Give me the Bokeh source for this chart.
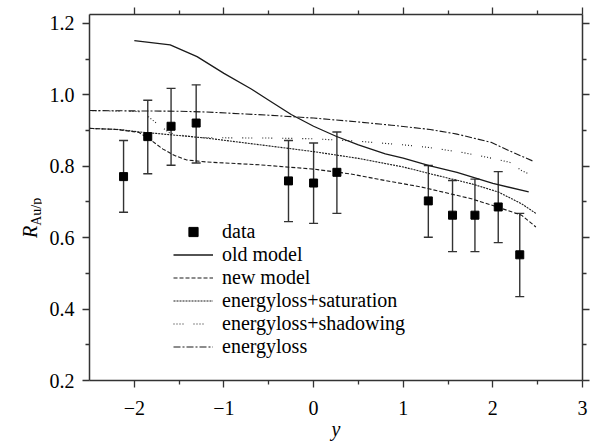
from bokeh.plotting import figure
from bokeh.models import (ColumnDataSource, Whisker, TeeHead, LinearAxis, FixedTicker,
                          Legend, LegendItem, CustomJSTickFormatter, Range1d, Div)
from bokeh.layouts import row
from bokeh.embed import file_html
from bokeh.resources import INLINE

# ---------------- data ----------------
data_x = [-2.12, -1.85, -1.59, -1.31, -0.28, 0.0, 0.26, 1.28, 1.55, 1.80, 2.06, 2.30]
data_y = [0.771, 0.883, 0.912, 0.921, 0.759, 0.753, 0.783, 0.703, 0.663, 0.663, 0.686, 0.552]
data_hi = [0.872, 0.985, 1.018, 1.028, 0.872, 0.865, 0.896, 0.802, 0.760, 0.764, 0.785, 0.668]
data_lo = [0.671, 0.779, 0.803, 0.809, 0.645, 0.640, 0.668, 0.601, 0.561, 0.561, 0.586, 0.435]

old_x = [-2.0, -1.6, -1.3, -1.0, -0.7, -0.5, -0.25, 0.0, 0.25, 0.5, 0.8, 1.0, 1.3, 1.6, 2.0, 2.4]
old_y = [1.152, 1.140, 1.107, 1.060, 1.017, 0.985, 0.945, 0.912, 0.884, 0.860, 0.835, 0.823, 0.801, 0.783, 0.752, 0.728]

new_x = [-2.5, -2.2, -1.95, -1.83, -1.68, -1.55, -1.42, -1.2, -0.6, 0.0, 0.4, 0.8, 1.2, 1.76, 2.0, 2.32, 2.48]
new_y = [0.906, 0.903, 0.895, 0.876, 0.848, 0.830, 0.818, 0.812, 0.804, 0.792, 0.779, 0.760, 0.742, 0.709, 0.690, 0.663, 0.630]

sat_x = [-2.5, -2.17, -1.94, -1.76, -1.5, -1.2, -0.5, 0.0, 0.5, 1.0, 1.3, 1.76, 2.06, 2.32, 2.48]
sat_y = [0.906, 0.903, 0.896, 0.892, 0.886, 0.879, 0.857, 0.841, 0.822, 0.798, 0.779, 0.751, 0.728, 0.695, 0.668]

shad_x = [-2.5, -1.94, -1.85, -1.74, -1.61, -1.5, -1.27, -0.5, 0.0, 0.5, 1.0, 1.275, 1.65, 1.94, 2.19, 2.32, 2.48]
shad_y = [0.956, 0.953, 0.940, 0.918, 0.894, 0.888, 0.880, 0.879, 0.877, 0.870, 0.860, 0.853, 0.839, 0.825, 0.811, 0.788, 0.769]

el_x = [-2.5, -2.0, -1.5, -1.2, -0.5, 0.0, 0.5, 0.87, 1.3, 1.6, 1.98, 2.24, 2.46]
el_y = [0.956, 0.955, 0.954, 0.952, 0.943, 0.935, 0.924, 0.915, 0.903, 0.890, 0.867, 0.837, 0.813]

x_ticks = [-2, -1, 0, 1, 2, 3]
x_tick_labels = ["\u22122", "\u22121", "0", "1", "2", "3"]
x_minor = [-1.5, -0.5, 0.5, 1.5, 2.5]
y_ticks = [0.2, 0.4, 0.6, 0.8, 1.0, 1.2]
y_tick_labels = ["0.2", "0.4", "0.6", "0.8", "1.0", "1.2"]
y_minor = [0.3, 0.5, 0.7, 0.9, 1.1]

legend_labels = ["data", "old model", "new model", "energyloss+saturation",
                 "energyloss+shadowing", "energyloss"]
x_title = "y"
y_title_main = "R"
y_title_sub = "Au/p"

# ---------------- figure ----------------
FONT = "Liberation Serif, Times New Roman, Times, serif"
AX = "#333333"
DIV_W = 41

p = figure(width=592 - DIV_W, height=442, output_backend="svg", toolbar_location=None,
           x_range=Range1d(-2.5, 3.0), y_range=Range1d(0.2, 1.225),
           min_border_left=89 - DIV_W, min_border_right=10, min_border_top=14, min_border_bottom=59)
p.margin = 0
p.outline_line_color = None
p.xgrid.visible = False
p.ygrid.visible = False
p.background_fill_color = "white"
p.border_fill_color = "white"

def style_axis(ax, ticks, minor, labels=None, show_labels=True):
    ax.ticker = FixedTicker(ticks=ticks, minor_ticks=minor)
    ax.axis_line_color = AX
    ax.axis_line_width = 1.5
    ax.major_tick_line_color = AX
    ax.minor_tick_line_color = AX
    ax.major_tick_line_width = 1.3
    ax.minor_tick_line_width = 1.3
    ax.major_tick_in = 0
    ax.major_tick_out = 7
    ax.minor_tick_in = 0
    ax.minor_tick_out = 4
    ax.major_label_text_font = FONT
    ax.major_label_text_font_size = "20px"
    ax.major_label_text_color = "black"
    if show_labels:
        ax.major_label_overrides = {t: l for t, l in zip(ticks, labels)}
    else:
        ax.formatter = CustomJSTickFormatter(code="return ''")
        ax.major_label_standoff = 0

style_axis(p.xaxis[0], x_ticks, x_minor, x_tick_labels)
p.xaxis[0].major_label_standoff = 13
p.xaxis[0].axis_label = x_title
p.xaxis[0].axis_label_text_font = FONT
p.xaxis[0].axis_label_text_font_style = "italic"
p.xaxis[0].axis_label_text_font_size = "20px"
p.xaxis[0].axis_label_text_color = "black"
p.xaxis[0].axis_label_standoff = 0

style_axis(p.yaxis[0], y_ticks, y_minor, y_tick_labels)
p.yaxis[0].major_label_standoff = 8

top = LinearAxis()
style_axis(top, x_ticks, x_minor, show_labels=False)
p.add_layout(top, "above")
right = LinearAxis()
style_axis(right, y_ticks, y_minor, show_labels=False)
p.add_layout(right, "right")

# ---------------- curves ----------------
LC = "#1a1a1a"
r_old = p.line(old_x, old_y, line_color=LC, line_width=1.3)
r_new = p.line(new_x, new_y, line_color=LC, line_width=1.1, line_dash="4 2")
r_sat = p.line(sat_x, sat_y, line_color=LC, line_width=1.1, line_dash="2 1")
r_shad = p.line(shad_x, shad_y, line_color=LC, line_width=1.1, line_dash="1 2 1 2 1 2 1 10")
r_el = p.line(el_x, el_y, line_color=LC, line_width=1.1, line_dash="7 2 2 2")

# ---------------- data points ----------------
src = ColumnDataSource(dict(x=data_x, y=data_y, hi=data_hi, lo=data_lo))
wh = Whisker(base="x", upper="hi", lower="lo", source=src, dimension="height",
             line_color=AX, line_width=1.4,
             upper_head=TeeHead(size=9, line_color=AX, line_width=1.4),
             lower_head=TeeHead(size=9, line_color=AX, line_width=1.4))
p.add_layout(wh)
r_data = p.scatter("x", "y", source=src, marker="square", size=8,
                   fill_color="black", line_color="black")

# ---------------- legend ----------------
legend = Legend(items=[LegendItem(label=legend_labels[0], renderers=[r_data]),
                       LegendItem(label=legend_labels[1], renderers=[r_old]),
                       LegendItem(label=legend_labels[2], renderers=[r_new]),
                       LegendItem(label=legend_labels[3], renderers=[r_sat]),
                       LegendItem(label=legend_labels[4], renderers=[r_shad]),
                       LegendItem(label=legend_labels[5], renderers=[r_el])],
                location=(84, 22))
legend.margin = 0
legend.padding = 0
legend.border_line_color = None
legend.background_fill_alpha = 0
legend.label_text_font = FONT
legend.label_text_font_size = "20px"
legend.label_text_color = "black"
legend.glyph_width = 40
legend.glyph_height = 23
legend.label_height = 23
legend.spacing = 0
legend.label_standoff = 9
p.add_layout(legend)

# ---------------- rotated y title: R with subscript Au/p ----------------
ylab_html = (
    '<div style="position:absolute; left:20px; top:238px; transform:rotate(-90deg); '
    'transform-origin:0 0; white-space:nowrap; font-family:\'Liberation Serif\', \'Times New Roman\', serif; '
    'font-size:20px; line-height:1; color:black;">'
    '<i>' + y_title_main + '</i>'
    '<span style="font-size:14px; font-style:normal; position:relative; top:4px;">'
    + y_title_sub + '</span></div>'
)
ylab = Div(text=ylab_html, width=DIV_W, height=442, margin=0)

layout = row(ylab, p, spacing=0)
open("out.html", "w").write(file_html(layout, INLINE))
